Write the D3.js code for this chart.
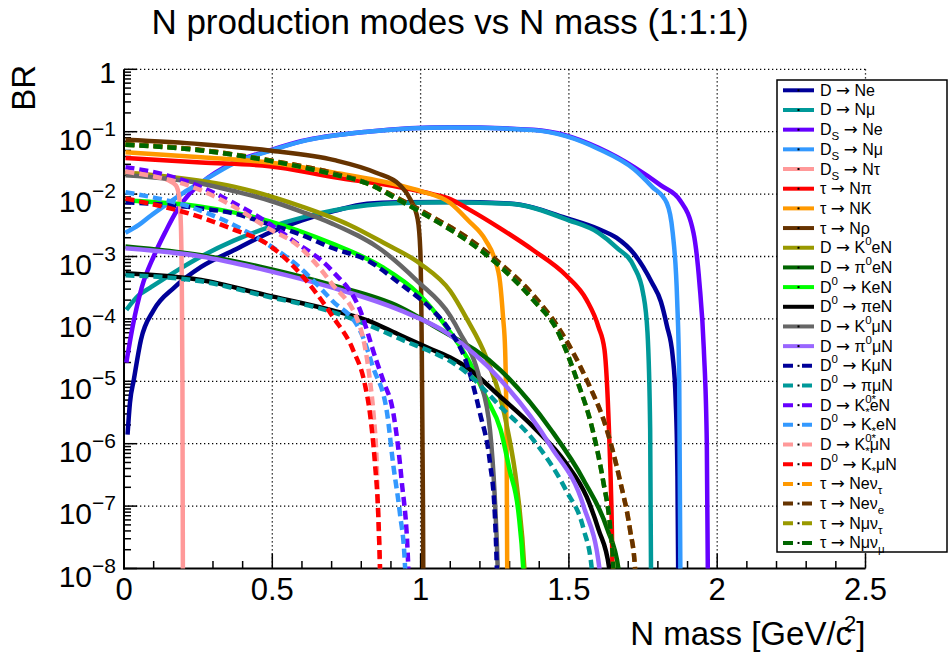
<!DOCTYPE html>
<html>
<head>
<meta charset="utf-8">
<script src="https://cdn.jsdelivr.net/npm/d3@7"></script>
<style>
body { margin: 0; background: #fff; }
text { font-family: "Liberation Sans", Arial, Helvetica, sans-serif; fill: #000; white-space: pre; }
</style>
</head>
<body>
<div id="chart"></div>
<script>
// N mass [GeV/c^2], BR
var dNe = [[0.012,1.4e-6],[0.02,4.5e-6],[0.033,1.05e-5],[0.057,4.6e-5],[0.1,1.38e-4],[0.17,3.2e-4],[0.26,6.8e-4],[0.37,1.26e-3],[0.49,2.4e-3],[0.6,3.8e-3],[0.71,5.4e-3],[0.82,7.0e-3],[0.93,7.4e-3],[1.1,7.5e-3],[1.3,7.1e-3],[1.5,4.0e-3],[1.6,2.75e-3],[1.66,2.0e-3],[1.72,1.1e-3],[1.78,3.8e-4],[1.81,1.9e-4],[1.83,7.9e-5],[1.85,2.5e-5],[1.86,5e-6],[1.866,3e-7],[1.87,1e-9]];
var dNmu = [[0.008,1.4e-4],[0.05,2.4e-4],[0.09,3.2e-4],[0.18,6e-4],[0.26,1e-3],[0.37,1.8e-3],[0.49,2.95e-3],[0.6,4.2e-3],[0.71,5.5e-3],[0.82,6.6e-3],[0.93,7.2e-3],[1.1,7.4e-3],[1.3,7.0e-3],[1.5,3.8e-3],[1.6,2.4e-3],[1.66,1.4e-3],[1.72,6.8e-4],[1.75,2.6e-4],[1.765,6e-5],[1.774,1.7e-6],[1.778,1e-9]];
var dsNe = [[0.008,2e-5],[0.03,7.9e-5],[0.06,3.2e-4],[0.1,1e-3],[0.14,2.5e-3],[0.18,5.6e-3],[0.22,1e-2],[0.26,1.5e-2],[0.37,3.2e-2],[0.49,5e-2],[0.6,7.1e-2],[0.82,0.1],[1.1,0.118],[1.38,0.107],[1.49,8.7e-2],[1.6,5.5e-2],[1.72,2.7e-2],[1.81,1.38e-2],[1.875,7.9e-3],[1.92,2.4e-3],[1.94,3.8e-4],[1.955,3.2e-5],[1.965,1e-6],[1.97,1e-9]];
var dsNmu = [[0.005,2.4e-3],[0.05,3.2e-3],[0.09,4.5e-3],[0.15,7.2e-3],[0.2,1.05e-2],[0.26,1.55e-2],[0.37,3.1e-2],[0.49,4.9e-2],[0.6,7.0e-2],[0.82,0.1],[1.1,0.117],[1.38,0.106],[1.49,8.5e-2],[1.6,5.3e-2],[1.72,2.5e-2],[1.78,1.32e-2],[1.83,7.2e-3],[1.85,2.4e-3],[1.865,2e-4],[1.872,1e-5],[1.877,1e-9]];
var dsNtau = [[0.003,2.2e-2],[0.1,2e-2],[0.15,1.66e-2],[0.175,1.38e-2],[0.186,9e-3],[0.192,3e-3],[0.195,3e-4],[0.197,1e-5],[0.199,1e-9]];
var tauNpi = [[0.005,3.8e-2],[0.26,3.2e-2],[0.49,2.8e-2],[0.71,1.86e-2],[0.93,1.29e-2],[1.04,1.0e-2],[1.1,8.3e-3],[1.16,5.8e-3],[1.27,2.8e-3],[1.38,1.26e-3],[1.49,5e-4],[1.56,2e-4],[1.6,7.4e-5],[1.62,3.2e-5],[1.635,1.7e-6],[1.645,4e-8],[1.65,1e-9]];
var tauNK = [[0.005,4.7e-2],[0.26,3.9e-2],[0.49,3.2e-2],[0.71,2.2e-2],[0.93,1.38e-2],[1.0,1.12e-2],[1.1,7.2e-3],[1.16,3.8e-3],[1.22,1.8e-3],[1.25,9e-4],[1.268,3.8e-4],[1.278,1.07e-4],[1.285,3.2e-5],[1.29,1e-6],[1.293,1e-9]];
var tauNrho = [[0.005,7.4e-2],[0.26,6.3e-2],[0.49,5e-2],[0.71,3.5e-2],[0.85,2.2e-2],[0.93,1.4e-2],[0.965,8.3e-3],[0.99,4e-3],[0.999,1.26e-3],[1.004,3.2e-5],[1.008,1e-7],[1.01,1e-9]];
var dK0eN = [[0.005,2.2e-2],[0.15,1.9e-2],[0.37,1.32e-2],[0.6,6.3e-3],[0.76,3.2e-3],[0.875,1.66e-3],[1.0,7.6e-4],[1.1,2.8e-4],[1.156,1e-4],[1.22,2.5e-5],[1.29,2e-6],[1.325,2e-7],[1.35,1e-8],[1.36,1e-9]];
var dPi0eN = [[0.005,1.45e-3],[0.26,1.05e-3],[0.48,6.5e-4],[0.7,3.5e-4],[0.93,1.55e-4],[1.04,7.9e-5],[1.27,1.5e-5],[1.44,1.66e-6],[1.55,2.6e-7],[1.63,4.2e-8],[1.667,1e-8],[1.675,1e-9]];
var d0KeN = [[0.005,7.9e-3],[0.26,6.3e-3],[0.48,3.8e-3],[0.7,1.62e-3],[0.87,6.8e-4],[0.99,2.6e-4],[1.09,7.1e-5],[1.16,2.24e-5],[1.22,5.6e-6],[1.27,1.66e-6],[1.3,3.8e-7],[1.33,7.8e-8],[1.346,1e-8],[1.355,1e-9]];
var d0PieN = [[0.005,5.4e-4],[0.26,4.2e-4],[0.48,2.4e-4],[0.7,1.38e-4],[0.82,9.5e-5],[0.93,5.5e-5],[1.04,3.2e-5],[1.1,2.4e-5],[1.157,1.66e-5],[1.27,5.6e-6],[1.38,1.86e-6],[1.49,4.9e-7],[1.56,1.4e-7],[1.6,4.2e-8],[1.636,1e-8],[1.645,1e-9]];
var dK0muN = [[0.005,2e-2],[0.26,1.48e-2],[0.37,1.12e-2],[0.49,7.9e-3],[0.6,5.2e-3],[0.7,3.4e-3],[0.87,1.26e-3],[0.99,4e-4],[1.1,1.12e-4],[1.13,6.3e-5],[1.2,1.05e-5],[1.234,1.66e-6],[1.25,1.4e-7],[1.26,1e-8],[1.265,1e-9]];
var dPi0muN = [[0.005,1.35e-3],[0.26,1e-3],[0.48,6e-4],[0.7,3.2e-4],[0.93,1.38e-4],[1.09,5.9e-5],[1.27,1.05e-5],[1.44,8.9e-7],[1.55,9.8e-8],[1.603,1e-8],[1.61,1e-9]];
var d0KmuN = [[0.005,7.4e-3],[0.26,5.9e-3],[0.37,4.9e-3],[0.48,3.4e-3],[0.59,2.3e-3],[0.7,1.38e-3],[0.82,8.7e-4],[0.93,3.7e-4],[1.04,1.38e-4],[1.09,7.4e-5],[1.155,1.95e-5],[1.2,3.1e-6],[1.234,4.9e-7],[1.25,7.8e-8],[1.257,1e-8],[1.262,1e-9]];
var d0PimuN = [[0.005,5e-4],[0.26,4e-4],[0.48,2.3e-4],[0.7,1.3e-4],[0.93,4.8e-5],[1.157,1.35e-5],[1.27,3.9e-6],[1.38,1.15e-6],[1.49,1.8e-7],[1.55,4.2e-8],[1.577,1e-8],[1.585,1e-9]];
var dK0stEN = [[0.005,2.7e-2],[0.145,2.0e-2],[0.256,1.32e-2],[0.37,7.2e-3],[0.48,3.6e-3],[0.57,1.8e-3],[0.7,6e-4],[0.796,1.38e-4],[0.85,2.2e-5],[0.875,1e-5],[0.908,3.1e-6],[0.936,2.6e-7],[0.958,1.2e-8],[0.965,1e-9]];
var d0KstEN = [[0.005,1.07e-2],[0.256,5.5e-3],[0.42,2.4e-3],[0.48,1.62e-3],[0.59,6.8e-4],[0.7,2e-4],[0.8,5.9e-5],[0.84,1.66e-5],[0.887,3.1e-6],[0.907,4.9e-7],[0.93,7.8e-8],[0.947,1.2e-8],[0.955,1e-9]];
var dK0stMuN = [[0.005,2.3e-2],[0.256,1.17e-2],[0.37,6.3e-3],[0.48,2.95e-3],[0.59,1.45e-3],[0.7,3.7e-4],[0.796,7.4e-5],[0.829,1.05e-5],[0.841,3.1e-6],[0.852,4.9e-7],[0.857,7.8e-8],[0.863,1.1e-8],[0.868,1e-9]];
var d0KstMuN = [[0.005,8.5e-3],[0.256,4.3e-3],[0.37,2.7e-3],[0.48,1.62e-3],[0.593,5.4e-4],[0.705,1.07e-4],[0.772,3.2e-5],[0.812,9e-6],[0.829,3.1e-6],[0.846,4.9e-7],[0.857,7.8e-8],[0.863,1.05e-8],[0.868,1e-9]];
var tauNeNuTau = [[0.005,6.3e-2],[0.26,5.1e-2],[0.48,3.55e-2],[0.7,2.2e-2],[0.82,1.5e-2],[0.93,8.3e-3],[1.04,4.3e-3],[1.157,2e-3],[1.27,7.6e-4],[1.38,2.4e-4],[1.47,6.6e-5],[1.56,1.05e-5],[1.628,1.66e-6],[1.672,2.6e-7],[1.706,4.2e-8],[1.723,1e-8],[1.73,1e-9]];
var tauNeNuE = [[0.005,6.3e-2],[0.26,5.1e-2],[0.48,3.55e-2],[0.7,2.2e-2],[0.82,1.5e-2],[0.93,8.3e-3],[1.04,4.3e-3],[1.157,2e-3],[1.27,7.6e-4],[1.38,2.4e-4],[1.47,6.6e-5],[1.56,1.05e-5],[1.628,1.66e-6],[1.672,2.6e-7],[1.706,4.2e-8],[1.723,1e-8],[1.73,1e-9]];
var tauNmuNuTau = [[0.005,6.2e-2],[0.26,5e-2],[0.48,3.5e-2],[0.7,2.1e-2],[0.82,1.48e-2],[0.93,7.9e-3],[1.04,4e-3],[1.157,1.8e-3],[1.27,6.8e-4],[1.38,2e-4],[1.46,6.6e-5],[1.527,1.05e-5],[1.58,1.66e-6],[1.615,2.6e-7],[1.64,4.2e-8],[1.65,1e-8],[1.655,1e-9]];
var tauNmuNuMu = [[0.005,6.2e-2],[0.26,5e-2],[0.48,3.5e-2],[0.7,2.1e-2],[0.82,1.48e-2],[0.93,7.9e-3],[1.04,4e-3],[1.157,1.8e-3],[1.27,6.8e-4],[1.38,2e-4],[1.46,6.6e-5],[1.527,1.05e-5],[1.58,1.66e-6],[1.615,2.6e-7],[1.64,4.2e-8],[1.65,1e-8],[1.655,1e-9]];

var series = [dNe, dNmu, dsNe, dsNmu, dsNtau, tauNpi, tauNK, tauNrho, dK0eN, dPi0eN, d0KeN, d0PieN,
  dK0muN, dPi0muN, d0KmuN, d0PimuN, dK0stEN, d0KstEN, dK0stMuN, d0KstMuN, tauNeNuTau, tauNeNuE, tauNmuNuTau, tauNmuNuMu];

// legend text (_{} subscript, ^{} superscript)
var labels = ["D \u2192 Ne", "D \u2192 N\u03bc", "D_{S} \u2192 Ne", "D_{S} \u2192 N\u03bc", "D_{S} \u2192 N\u03c4",
  "\u03c4 \u2192 N\u03c0", "\u03c4 \u2192 NK", "\u03c4 \u2192 N\u03c1",
  "D \u2192 K^{0}eN", "D \u2192 \u03c0^{0}eN", "D^{0} \u2192 KeN", "D^{0} \u2192 \u03c0eN",
  "D \u2192 K^{0}\u03bcN", "D \u2192 \u03c0^{0}\u03bcN", "D^{0} \u2192 K\u03bcN", "D^{0} \u2192 \u03c0\u03bcN",
  "D \u2192 K^{0*}_{*}eN", "D^{0} \u2192 K_{*}eN", "D \u2192 K^{0*}_{*}\u03bcN", "D^{0} \u2192 K_{*}\u03bcN",
  "\u03c4 \u2192 Ne\u03bd_{\u03c4}", "\u03c4 \u2192 Ne\u03bd_{e}", "\u03c4 \u2192 N\u03bc\u03bd_{\u03c4}", "\u03c4 \u2192 N\u03bc\u03bd_{\u03bc}"];

var colors = ["#000099", "#009999", "#6600ff", "#3399ff", "#ff9999", "#ff0000", "#ff9900", "#663300",
  "#999900", "#006600", "#00ff00", "#000000", "#666666", "#9966ff",
  "#000099", "#009999", "#6600ff", "#3399ff", "#ff9999", "#ff0000", "#ff9900", "#663300", "#999900", "#006600"];
var dashed = d3.range(24).map(function(i){ return i >= 14; });

var xTicks = [0, 0.5, 1, 1.5, 2, 2.5];
var xTickLabels = ["0", "0.5", "1", "1.5", "2", "2.5"];
var yTicks = [1e-8, 1e-7, 1e-6, 1e-5, 1e-4, 1e-3, 1e-2, 1e-1, 1];
var yTickLabels = ["10^{\u22128}", "10^{\u22127}", "10^{\u22126}", "10^{\u22125}", "10^{\u22124}", "10^{\u22123}", "10^{\u22122}", "10^{\u22121}", "1"];

// Tamanho
var w = 949, h = 665;
var fLeft = 124, fRight = 865.5, fTop = 69.3, fBottom = 568.5;

var svg = d3.select("#chart").append("svg").attr("width", w).attr("height", h);

var x = d3.scaleLinear().domain([0, 2.5]).range([fLeft, fRight]);
var y = d3.scaleLog().domain([1e-8, 1]).range([fBottom, fTop]);

// escreve texto com sub/superscritos; a seta vai em DejaVu
function richText(t, str, size, small, rise, drop) {
  var parts = [], re = /([_^])\{([^}]*)\}|(\u2192)/g, last = 0, m;
  while ((m = re.exec(str)) !== null) {
    if (m.index > last) parts.push({t: str.slice(last, m.index), k: ""});
    if (m[3]) parts.push({t: m[3], k: "a"});
    else parts.push({t: m[2], k: m[1]});
    last = re.lastIndex;
  }
  if (last < str.length) parts.push({t: str.slice(last), k: ""});
  var off = 0, prevSup = null;
  parts.forEach(function(p) {
    var target = p.k == "^" ? -rise : (p.k == "_" ? drop : 0);
    var isSmall = p.k == "^" || p.k == "_";
    var ts = t.append("tspan").attr("dy", target - off).attr("font-size", isSmall ? small : size).text(p.t);
    if (p.k == "a") ts.style("font-family", "'DejaVu Sans'").attr("font-size", size * 1.05);
    if (p.k == "_" && prevSup) ts.attr("dx", -prevSup.node().getComputedTextLength());
    prevSup = p.k == "^" ? ts : null;
    off = target;
  });
}

// grade pontilhada
var grid = svg.append("g").attr("stroke", "#000").attr("stroke-width", 1.3).attr("stroke-dasharray", "1.3,2.7");
xTicks.slice(1).forEach(function(v) {
  grid.append("line").attr("x1", x(v)).attr("x2", x(v)).attr("y1", fTop).attr("y2", fBottom);
});
yTicks.slice(1).forEach(function(v) {
  grid.append("line").attr("x1", fLeft).attr("x2", fRight).attr("y1", y(v)).attr("y2", y(v));
});

// eixos
var axes = svg.append("g").attr("stroke", "#000").attr("stroke-width", 2);
axes.append("line").attr("x1", fLeft).attr("x2", fLeft).attr("y1", fTop).attr("y2", fBottom + 1);
axes.append("line").attr("x1", fLeft - 1).attr("x2", fRight).attr("y1", fBottom).attr("y2", fBottom);

var tk = svg.append("g").attr("stroke", "#000").attr("stroke-width", 1.5);
d3.range(0, 26).forEach(function(i) {
  var v = i / 10, major = i % 5 == 0;
  tk.append("line").attr("x1", x(v)).attr("x2", x(v)).attr("y1", fBottom).attr("y2", fBottom - (major ? 15 : 7.5));
});
d3.range(-8, 1).forEach(function(e) {
  tk.append("line").attr("x1", fLeft).attr("x2", fLeft + 13).attr("y1", y(Math.pow(10, e))).attr("y2", y(Math.pow(10, e)));
  if (e < 0) d3.range(2, 10).forEach(function(k) {
    var v = k * Math.pow(10, e);
    tk.append("line").attr("x1", fLeft).attr("x2", fLeft + 7).attr("y1", y(v)).attr("y2", y(v));
  });
});

// rotulos
xTicks.forEach(function(v, i) {
  svg.append("text").attr("x", x(v)).attr("y", 600).attr("text-anchor", "middle")
    .attr("font-size", 31).text(xTickLabels[i]);
});
yTicks.forEach(function(v, i) {
  var t = svg.append("text").attr("x", 116).attr("y", y(v) + (i == 8 ? 14 : 18)).attr("text-anchor", "end");
  richText(t, yTickLabels[i], 30, 21, 14, 0);
});

svg.append("text").attr("x", 450).attr("y", 34).attr("text-anchor", "middle").attr("font-size", 35)
  .text("N production modes vs N mass (1:1:1)");
svg.append("text").attr("transform", "translate(35,65) rotate(-90)").attr("text-anchor", "end")
  .attr("font-size", 33).text("BR");
var xl = svg.append("text").attr("x", fRight).attr("y", 645).attr("text-anchor", "end").attr("font-size", 33);
xl.append("tspan").text("N mass [GeV/c");
xl.append("tspan").attr("font-size", 22).attr("dy", -14).attr("dx", -8).text("2");
xl.append("tspan").attr("dy", 14).text("]");

// curvas
svg.append("clipPath").attr("id", "frame").append("rect")
  .attr("x", fLeft).attr("y", fTop).attr("width", fRight - fLeft).attr("height", fBottom - fTop);

var line = d3.line()
  .x(function(d) { return x(d[0]); })
  .y(function(d) { return y(d[1]); })
  .curve(d3.curveMonotoneX);

var curves = svg.append("g").attr("clip-path", "url(#frame)");
series.forEach(function(s, i) {
  curves.append("path").datum(s).attr("d", line)
    .attr("fill", "none").attr("stroke", colors[i]).attr("stroke-width", 4.5)
    .attr("stroke-dasharray", dashed[i] ? "9,5" : null);
});

// legenda
var lg = svg.append("g");
lg.append("rect").attr("x", 777).attr("y", 80).attr("width", 170).attr("height", 472)
  .attr("fill", "#fff").attr("stroke", "#000").attr("stroke-width", 1.5);
labels.forEach(function(lab, i) {
  var cy = 90.3 + i * 19.68;
  lg.append("line").attr("x1", 783).attr("x2", 814).attr("y1", cy).attr("y2", cy)
    .attr("stroke", colors[i]).attr("stroke-width", 4)
    .attr("stroke-dasharray", dashed[i] ? "10,9" : null);
  lg.append("rect").attr("x", 797.5).attr("y", cy - 1).attr("width", 2).attr("height", 2).attr("fill", "#000");
  var t = lg.append("text").attr("x", 820).attr("y", cy + 5.5);
  richText(t, lab, 16, 11.5, 8, 5);
});
</script>
</body>
</html>
